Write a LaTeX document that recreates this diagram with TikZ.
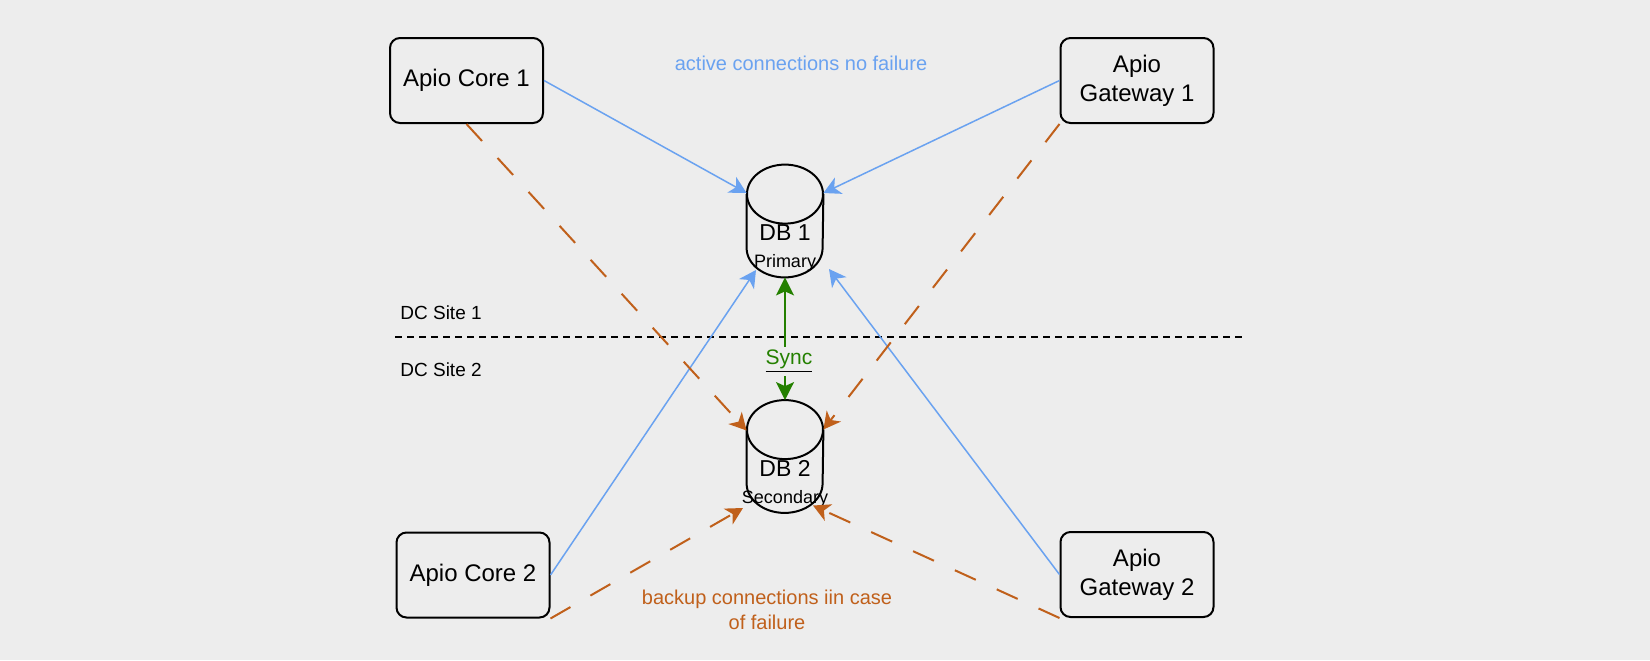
\documentclass[tikz,border=0pt]{standalone}
\usepackage{fontspec}
\setmainfont{Liberation Sans}
\usetikzlibrary{arrows.meta,calc}

\definecolor{canvas}{HTML}{EDEDED}
\definecolor{activeblue}{HTML}{6AA2F0}
\definecolor{backuporange}{HTML}{C0601B}
\definecolor{syncgreen}{HTML}{248000}

% cylinder drawn round an (invisible) db node
\newcommand{\dbcylinder}[1]{%
  \draw[dbline] ([yshift=-14.75pt]#1.north) ellipse [x radius=19pt, y radius=14.75pt];
  \draw[dbline] ([yshift=-14.75pt]#1.north west) -- ([yshift=14.75pt]#1.south west)
    arc[start angle=180, end angle=360, x radius=19pt, y radius=14.75pt]
    -- ([yshift=-14.75pt]#1.north east);
}

\begin{document}
\begin{tikzpicture}[x=0.5pt, y=-0.5pt,
  box/.style={rectangle, draw, line width=1pt, rounded corners=5pt, minimum width=76.5pt, minimum height=42.5pt, align=center, font=\fontsize{12}{14.5}\selectfont},
  db/.style={rectangle, minimum width=38pt, minimum height=56pt, inner sep=0pt},
  dbline/.style={line width=1pt},
  dbtitle/.style={font=\fontsize{11.5}{13}\selectfont, inner sep=0pt},
  dbrole/.style={font=\fontsize{9}{10}\selectfont, inner sep=0pt},
  headarrow/.style={-{Stealth[length=8.5pt, width=9pt, inset=2.5pt]}},
  active/.style={headarrow, draw=activeblue, line width=0.75pt},
  backup/.style={headarrow, draw=backuporange, line width=1pt, dash pattern=on 11.5pt off 11.5pt},
  syncline/.style={{Stealth[length=9pt, width=9pt, inset=2pt]}-{Stealth[length=9pt, width=9pt, inset=2pt]}, draw=syncgreen, line width=1pt},
  note/.style={font=\fontsize{10}{12.5}\selectfont, align=center},
  site/.style={font=\fontsize{9.5}{11}\selectfont, anchor=west, inner sep=0pt},
]

\useasboundingbox (0,0) rectangle (1650,660);
\fill[canvas] (0,0) rectangle (1650,660);

% === Application nodes ===
\node[box] (core1) at (466.5,80.5) {Apio Core 1};
\node[box] (gw1) at (1137,80.5) {Apio\\Gateway 1};
\node[box] (core2) at (473,575) {Apio Core 2};
\node[box] (gw2) at (1137,574.5) {Apio\\Gateway 2};

% === Databases ===
\node[db] (db1) at (785,221) {};
\node[db] (db2) at (785,456.5) {};
\dbcylinder{db1}
\dbcylinder{db2}
\node[dbtitle] (db1title) at ([shift={(0,12)}]db1.center) {DB 1};
\node[dbrole] (db1role) at ([shift={(0,42)}]db1.center) {Primary};
\node[dbtitle] (db2title) at ([shift={(0,12)}]db2.center) {DB 2};
\node[dbrole] (db2role) at ([shift={(0,42.5)}]db2.center) {Secondary};

% === Site boundary ===
\draw[line width=1pt, dash pattern=on 3.5pt off 2.5pt] (395,337) -- (1242,337);
\node[site] (site1) at (400,313) {DC Site 1};
\node[site] (site2) at (400,370) {DC Site 2};

% === Active connections ===
\draw[active] (core1.east) -- ([shift={(0,-28)}]db1.west);
\draw[active] (gw1.west) -- ([shift={(0,-28)}]db1.east);
\draw[active] (core2.east) -- ([shift={(-29,49)}]db1.center);
\draw[active] (gw2.west) -- ([shift={(44,48)}]db1.center);

% === Backup connections ===
\draw[backup] (core1.south) -- ([shift={(0,-26)}]db2.west);
\draw[backup] (gw1.south west) -- ([shift={(0,-27)}]db2.east);
\draw[backup] (core2.south east) -- ([shift={(-42,51.5)}]db2.center);
\draw[backup] (gw2.south west) -- ([shift={(28,49)}]db2.center);

% === Replication ===
\draw[syncline] (db1.south) -- (db2.north)
  node[pos=0.685, fill=canvas, inner sep=1.5pt, xshift=2pt] (sync) {\fontsize{10.5}{12}\selectfont\underline{\textcolor{syncgreen}{Sync}}};

% === Notes ===
\node[note, text=activeblue] (activenote) at (801,63) {active connections no failure};
\node[note, text=backuporange] (backupnote) at (767,610) {backup connections iin case\\of failure};

\end{tikzpicture}
\end{document}
